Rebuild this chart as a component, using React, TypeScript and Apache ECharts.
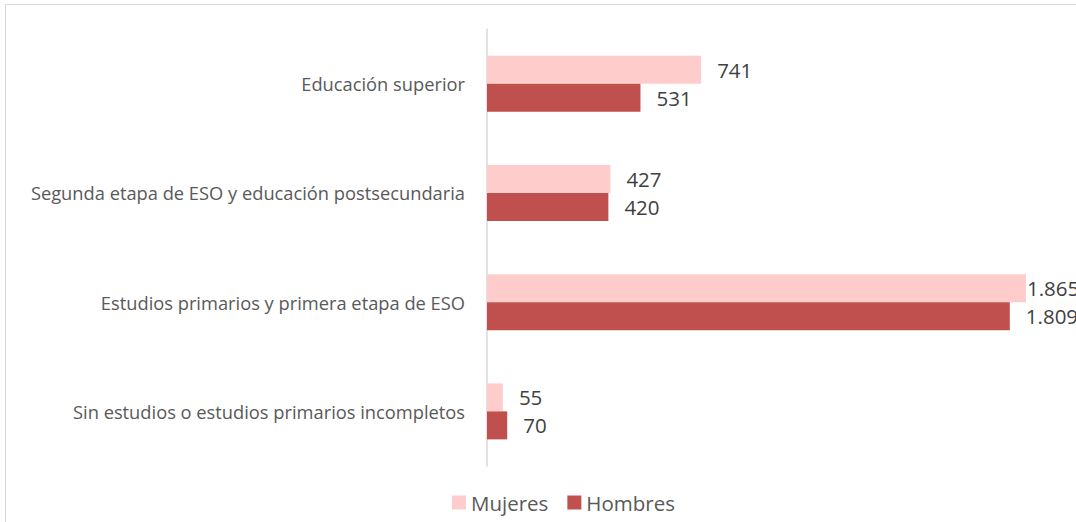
import React, { useEffect, useRef } from "react";
import * as echarts from "echarts";

const categories = [
  "Sin estudios o estudios primarios incompletos",
  "Estudios primarios y primera etapa de ESO",
  "Segunda etapa de ESO y educación postsecundaria",
  "Educación superior",
];
const mujeres = [55, 1865, 427, 741];
const hombres = [70, 1809, 420, 531];
const seriesNames = ["Mujeres", "Hombres"];

const fmt = (v: number) => v.toString().replace(/\B(?=(\d{3})+(?!\d))/g, ".");

export default function App() {
  const ref = useRef<HTMLDivElement>(null);
  useEffect(() => {
    if (!ref.current) return;
    const chart = echarts.init(ref.current, null, { renderer: "svg" });
    const font = "'Open Sans', 'Liberation Sans', sans-serif";
    const maxM = Math.max(...mujeres);
    const mkData = (arr: number[]) =>
      arr.map((v) => ({
        value: v,
        label: v === maxM ? { distance: 1 } : undefined,
      }));
    const labelCfg = {
      show: true,
      position: "right",
      distance: 16,
      fontSize: 20.5,
      color: "#404040",
      fontFamily: font,
      formatter: (p: any) => fmt(p.value),
    };
    chart.setOption({
      animation: false,
      graphic: [
        {
          type: "rect",
          shape: { x: 5.5, y: 4.5, width: 1200, height: 700 },
          style: { fill: "none", stroke: "#d9d9d9", lineWidth: 1 },
          silent: true,
        },
      ],
      legend: {
        bottom: 4,
        left: 447,
        itemWidth: 14,
        itemHeight: 14,
        itemGap: 19,
        icon: "rect",
        textStyle: { fontSize: 20.5, color: "#595959", fontFamily: font },
        data: seriesNames,
      },
      grid: { left: 487, top: 29, width: 578, height: 437 },
      xAxis: {
        type: "value",
        min: 0,
        max: 2000,
        show: false,
      },
      yAxis: {
        type: "category",
        data: categories,
        axisLine: { show: true, lineStyle: { color: "#d9d9d9", width: 1.5 } },
        axisTick: { show: false },
        axisLabel: { margin: 22, fontSize: 18.3, color: "#595959", fontFamily: font },
      },
      series: [
        {
          name: seriesNames[0],
          type: "bar",
          data: mkData(mujeres),
          barWidth: 28,
          barGap: "0%",
          itemStyle: { color: "#FFCCCC" },
          label: labelCfg,
        },
        {
          name: seriesNames[1],
          type: "bar",
          data: hombres,
          barWidth: 28,
          barGap: "0%",
          itemStyle: { color: "#C0504D" },
          label: labelCfg,
        },
      ],
    });
    return () => chart.dispose();
  }, []);
  return (
    <div
      ref={ref}
      style={{ position: "fixed", left: 0, top: 0, width: 1076, height: 522, background: "#fff" }}
    />
  );
}
